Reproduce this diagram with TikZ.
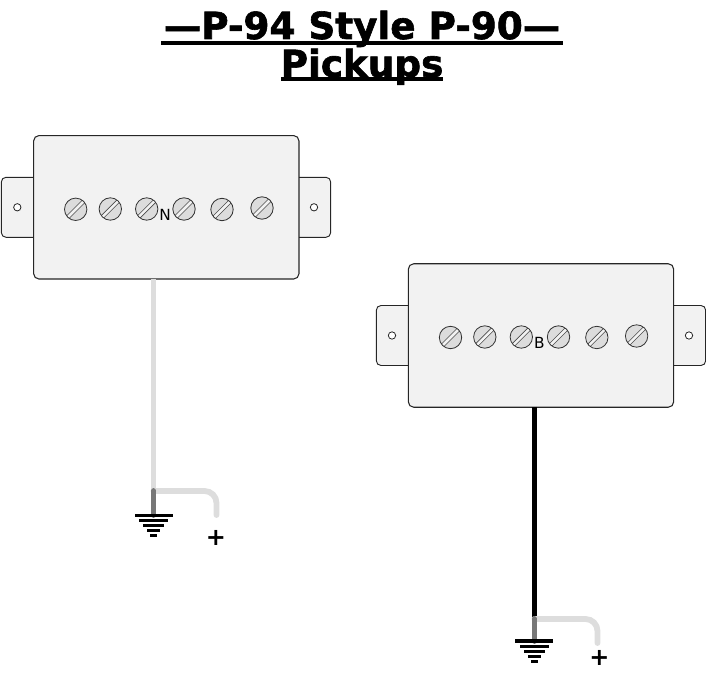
\documentclass[tikz,border=0pt]{standalone}
\usepackage{fontspec}
\setmainfont{DejaVu Sans}
\newfontfamily\titlefont[FakeBold=1.6]{DejaVu Sans Bold}
\definecolor{coverfill}{HTML}{F2F2F2}
\definecolor{screwfill}{HTML}{DCDCDC}
\definecolor{wirelight}{HTML}{DDDDDD}
\definecolor{wiredark}{HTML}{777777}
\tikzset{
    cover/.style={draw=black!85, fill=coverfill, line width=0.8pt, rounded corners=4pt, inner sep=0pt, minimum width=199pt, minimum height=107.6pt},
    ear/.style={draw=black!85, fill=coverfill, line width=0.7pt, rounded corners=3.5pt, inner sep=0pt, minimum width=29.5pt, minimum height=45pt},
    hole/.style={circle, draw=black!85, fill=white, line width=0.6pt, inner sep=0pt, minimum size=5.5pt},
    screw/.style={circle, draw=black!80, fill=screwfill, line width=0.6pt, inner sep=0pt, minimum size=16.8pt,
        path picture={
            \draw[line width=3pt, black!70] (path picture bounding box.south west) -- (path picture bounding box.north east);
            \draw[line width=1.9pt, coverfill] (path picture bounding box.south west) -- (path picture bounding box.north east);
        }},
    rung/.style={fill=black, inner sep=0pt, minimum height=2.4pt},
    titletext/.style={font=\titlefont\fontsize{28}{28}\selectfont, inner sep=0pt, anchor=base},
    pluslabel/.style={font=\bfseries\fontsize{18}{18}\selectfont, inner sep=0pt},
    pickuplabel/.style={font=\fontsize{11.5}{11.5}\selectfont, inner sep=0pt},
    hotwire/.style={draw=wirelight, line width=4.4pt, line cap=round, rounded corners=9pt},
    groundwire/.style={draw=wiredark, line width=4.4pt, line cap=round},
}
\begin{document}
\begin{tikzpicture}[x=0.75pt, y=-0.75pt]
    \useasboundingbox (0,0) rectangle (706,680);

    % title
    \node[titletext] (title1) at (362,39) {—P-94 Style P-90—};
    \node[titletext] (title2) at (362,77) {Pickups};
    \coordinate (ul1a) at (161,43);
    \coordinate (ul1b) at (563,43);
    \coordinate (ul2a) at (281,79);
    \coordinate (ul2b) at (443,79);
    \draw[line width=2.6pt] (ul1a) -- (ul1b);
    \draw[line width=2.6pt] (ul2a) -- (ul2b);

    % neck pickup
    \node[ear] (earNl) at (21,207.3) {};
    \node[ear] (earNr) at (311,207.3) {};
    \node[cover] (coverN) at (166.3,207.3) {};
    \node[hole] (holeNl) at (17.3,207.3) {};
    \node[hole] (holeNr) at (314,207.3) {};
    \node[screw] (sN1) at (75.7,209.3) {};
    \node[screw] (sN2) at (110.3,209) {};
    \node[screw] (sN3) at (146.7,209) {};
    \node[screw] (sN4) at (184,209) {};
    \node[screw] (sN5) at (222,209.5) {};
    \node[screw] (sN6) at (262,208) {};
    \node[pickuplabel] (labelN) at (165,214.5) {N};

    % bridge pickup
    \node[ear] (earBl) at (396,335.5) {};
    \node[ear] (earBr) at (686,335.5) {};
    \node[cover] (coverB) at (541,335.5) {};
    \node[hole] (holeBl) at (392,335.5) {};
    \node[hole] (holeBr) at (689,335.5) {};
    \node[screw] (sB1) at (450.5,337.5) {};
    \node[screw] (sB2) at (484.8,337) {};
    \node[screw] (sB3) at (521.3,337) {};
    \node[screw] (sB4) at (558.5,337) {};
    \node[screw] (sB5) at (596.8,337.5) {};
    \node[screw] (sB6) at (636.6,336) {};
    \node[pickuplabel] (labelB) at (539.5,342.5) {B};

    % neck wires
    \coordinate (tapN) at (153.5,279);
    \coordinate (jointN) at (153.5,491);
    \coordinate (groundN) at (153.5,515);
    \coordinate (bendN) at (216.5,491);
    \coordinate (endN) at (216.5,515);
    \draw[wirelight, line width=4.4pt] (tapN) -- (jointN);
    \draw[hotwire] (jointN) -- (bendN) -- (endN);
    \draw[groundwire] (jointN) -- (groundN);
    \node[rung, minimum width=28.5pt] (gN1) at (153.8,515.3) {};
    \node[rung, minimum width=22pt] (gN2) at (153.8,520.7) {};
    \node[rung, minimum width=15.5pt] (gN3) at (153.8,525.5) {};
    \node[rung, minimum width=10pt] (gN4) at (153.8,530.7) {};
    \node[rung, minimum width=5.5pt] (gN5) at (153.8,535.7) {};
    \node[pluslabel] (plusN) at (216,538) {+};

    % bridge wires
    \coordinate (tapB) at (534.5,407);
    \coordinate (jointB) at (534.5,619);
    \coordinate (groundB) at (534.5,641);
    \coordinate (bendB) at (597.5,619);
    \coordinate (endB) at (597.5,643);
    \draw[black, line width=4.4pt] (tapB) -- (jointB);
    \draw[hotwire] (jointB) -- (bendB) -- (endB);
    \draw[groundwire] (jointB) -- (groundB);
    \node[rung, minimum width=28.5pt] (gB1) at (534.3,641) {};
    \node[rung, minimum width=22pt] (gB2) at (534.3,646.3) {};
    \node[rung, minimum width=15.5pt] (gB3) at (534.3,651.5) {};
    \node[rung, minimum width=10pt] (gB4) at (534.3,656.5) {};
    \node[rung, minimum width=5.5pt] (gB5) at (534.3,661.5) {};
    \node[pluslabel] (plusB) at (599.3,658) {+};
\end{tikzpicture}
\end{document}
